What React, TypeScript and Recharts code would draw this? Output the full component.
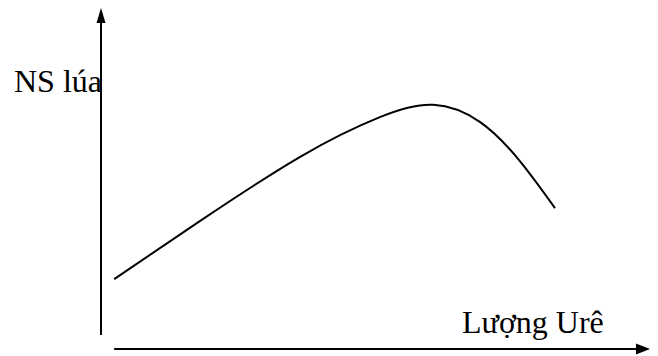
import React from 'react';
import { LineChart, Line, XAxis, YAxis, ReferenceLine } from 'recharts';

// Urea amount (arbitrary units) and rice yield
const ureaLevels = [2.4, 18.0, 36.2, 50.8, 60.5, 69.0, 76.3, 82.7];
const riceYield = [20.5, 37.5, 56.3, 68.0, 71.6, 66.6, 55.1, 41.3];

const yAxisLabel = 'NS lúa';
const xAxisLabel = 'Lượng Urê';

const data = ureaLevels.map((u, i) => ({ urea: u, yield: riceYield[i] }));

const W = 658;
const H = 356;
const FONT = "'Liberation Serif', 'Times New Roman', serif";

// line with a filled arrowhead at the (x2, y2) end
const ArrowShape = (headLen: number, headHalf: number) => (props: any) => {
    const { x1, y1, x2, y2 } = props;
    const dx = x2 - x1;
    const dy = y2 - y1;
    const len = Math.sqrt(dx * dx + dy * dy) || 1;
    const ux = dx / len;
    const uy = dy / len;
    const bx = x2 - ux * headLen;
    const by = y2 - uy * headLen;
    const pts = `${x2},${y2} ${bx - uy * headHalf},${by + ux * headHalf} ${bx + uy * headHalf},${by - ux * headHalf}`;
    return (
        <g>
            <line x1={x1} y1={y1} x2={bx + ux} y2={by + uy} stroke="#000" strokeWidth={2} />
            <polygon points={pts} fill="#000" />
        </g>
    );
};

export default function App() {
    return (
        <div style={{ position: 'absolute', left: 0, top: 0, width: W, height: H, background: '#fff' }}>
            <LineChart width={W} height={H} data={data} margin={{ top: 8, right: 8, bottom: 7, left: 101 }}>
                <XAxis dataKey="urea" type="number" domain={[0, 100]} hide />
                <YAxis type="number" domain={[0, 100]} hide />
                <ReferenceLine
                    segment={[{ x: 0, y: 4.1 }, { x: 0, y: 100 }]}
                    shape={ArrowShape(15, 4.5)}
                />
                <ReferenceLine
                    segment={[{ x: 2.4, y: 0 }, { x: 100, y: 0 }]}
                    shape={ArrowShape(14, 5.5)}
                />
                <Line
                    type="natural"
                    dataKey="yield"
                    stroke="#000"
                    strokeWidth={2}
                    dot={false}
                    activeDot={false}
                    isAnimationActive={false}
                />
            </LineChart>
            <div style={{ position: 'absolute', left: 14, top: 92 - 29, fontFamily: FONT, fontSize: 32, lineHeight: '36px', whiteSpace: 'nowrap' }}>
                {yAxisLabel}
            </div>
            <div style={{ position: 'absolute', left: 462, top: 333 - 29, fontFamily: FONT, fontSize: 32, lineHeight: '36px', whiteSpace: 'nowrap' }}>
                {xAxisLabel}
            </div>
        </div>
    );
}
